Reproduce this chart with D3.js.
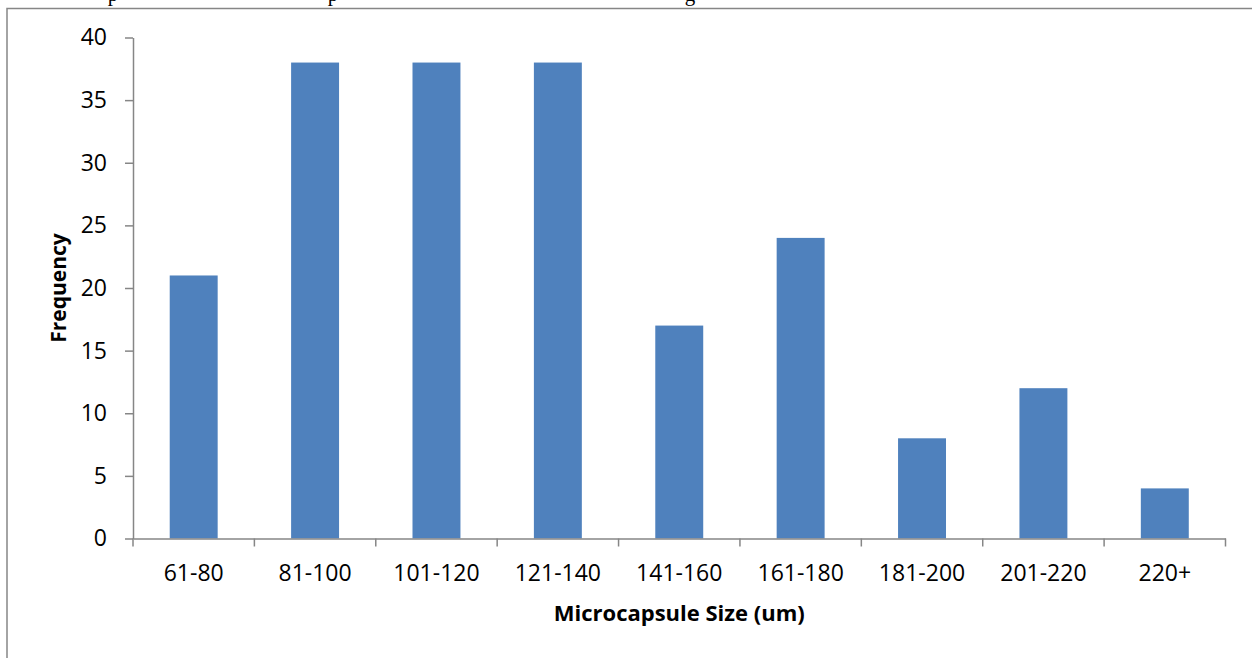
<!DOCTYPE html>
<html>
<head>
<meta charset="utf-8">
<script src="https://cdn.jsdelivr.net/npm/d3@7"></script>
<style>
    body { margin: 0; background: #fff; }
    svg { display: block; }
</style>
</head>
<body>
<script>
// data
let categories = ["61-80", "81-100", "101-120", "121-140", "141-160", "161-180", "181-200", "201-220", "220+"]
let frequency = [21, 38, 38, 38, 17, 24, 8, 12, 4]
let yTicks = [0, 5, 10, 15, 20, 25, 30, 35, 40]
let xTitle = "Microcapsule Size (um)"
let yTitle = "Frequency"

// setup canvas
let width = 1252
let height = 658
let plot = { left: 133, right: 1225.5, top: 37.5, bottom: 538.5 }
let axisColor = "#868686"
let font = "'Open Sans', sans-serif"

let svg = d3.select("body").append("svg")
    .attr("width", width)
    .attr("height", height)
    .attr("class", "canvas")

// caption line above the chart frame, cut by the top edge as in the source (only descenders show)
let caption = svg.append("g").attr("class", "caption")
    .style("font-family", "'Liberation Serif', serif")
    .style("font-size", "21px")
    .attr("fill", "#000")
caption.selectAll("text")
    .data([{ t: "p", x: 113 }, { t: "p", x: 333 }, { t: "g", x: 690 }])
    .enter()
    .append("text")
    .attr("x", d => d.x)
    .attr("y", 0.5)
    .attr("text-anchor", "middle")
    .text(d => d.t)

// chart frame
svg.append("path")
    .attr("d", `M7,${height + 5} V8.5 H${width + 5}`)
    .attr("fill", "none")
    .attr("stroke", axisColor)
    .attr("stroke-width", 1.5)

// scales
let x = d3.scaleBand()
    .domain(categories)
    .range([plot.left, plot.right])
    .paddingInner(0.605)
    .paddingOuter(0.3025)

let xEdge = d3.scaleLinear()
    .domain([0, categories.length])
    .range([plot.left, plot.right])

let y = d3.scaleLinear()
    .domain([0, 40])
    .range([plot.bottom, plot.top])

// bars
svg.append("g")
    .attr("class", "bars")
    .selectAll("rect")
    .data(frequency)
    .enter()
    .append("rect")
        .attr("x", (d, i) => x(categories[i]))
        .attr("y", d => y(d))
        .attr("width", x.bandwidth())
        .attr("height", d => y(0) - y(d))
        .attr("fill", "#4F81BD")

// y axis
let yAxis = svg.append("g")
    .attr("transform", `translate(${plot.left},0)`)
    .call(d3.axisLeft(y).tickValues(yTicks).tickSize(8).tickPadding(18).tickSizeOuter(0))
yAxis.select(".domain").attr("stroke", axisColor).attr("stroke-width", 1.5)
yAxis.selectAll(".tick line").attr("stroke", axisColor).attr("stroke-width", 1.5)
yAxis.selectAll("text")
    .style("font-family", font)
    .style("font-size", "23px")
    .attr("fill", "#000")

// x axis: labels at band centres, ticks at category edges
let xAxis = svg.append("g")
    .attr("transform", `translate(0,${plot.bottom})`)
    .call(d3.axisBottom(x).tickSize(0).tickPadding(26).tickSizeOuter(0))
xAxis.select(".domain").attr("stroke", axisColor).attr("stroke-width", 1.5)
xAxis.selectAll("text")
    .style("font-family", font)
    .style("font-size", "23px")
    .attr("fill", "#000")

xAxis.append("g")
    .attr("class", "edge-ticks")
    .selectAll("line")
    .data(d3.range(categories.length + 1))
    .enter()
    .append("line")
        .attr("x1", d => xEdge(d))
        .attr("x2", d => xEdge(d))
        .attr("y1", 0)
        .attr("y2", 8)
        .attr("stroke", axisColor)
        .attr("stroke-width", 1.5)

// axis titles
svg.append("text")
    .attr("x", (plot.left + plot.right) / 2)
    .attr("y", 621)
    .attr("text-anchor", "middle")
    .style("font-family", font)
    .style("font-size", "22px")
    .style("font-weight", "bold")
    .text(xTitle)

svg.append("text")
    .attr("transform", `translate(66,${(plot.top + plot.bottom) / 2}) rotate(-90)`)
    .attr("text-anchor", "middle")
    .style("font-family", font)
    .style("font-size", "21px")
    .style("font-weight", "bold")
    .text(yTitle)
</script>
</body>
</html>
